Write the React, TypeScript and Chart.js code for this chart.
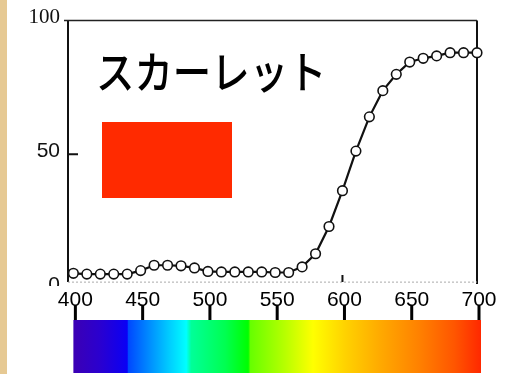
import React, { useEffect, useRef } from "react";
import { Chart, registerables } from "chart.js";

Chart.register(...registerables);

const wavelengths = [
  400, 410, 420, 430, 440, 450, 460, 470, 480, 490, 500, 510, 520, 530, 540, 550,
  560, 570, 580, 590, 600, 610, 620, 630, 640, 650, 660, 670, 680, 690, 700,
];
const reflectance = [
  5.5, 5.2, 5.2, 5.2, 5.2, 6.5, 8.5, 8.5, 8.3, 7.5, 6.2, 6.0, 6.0, 6.0, 6.0, 5.8,
  5.8, 7.9, 12.8, 23.0, 36.4, 51.2, 64.0, 73.8, 79.9, 84.5, 85.9, 86.8, 88.0, 88.0, 88.0,
];
const xTickValues = [400, 450, 500, 550, 600, 650, 700];
const yTickValues = [0, 50, 100];
const titleText = "スカーレット";
const swatchColor = "#ff2a00";
const spectrumStops: [number, string][] = [
  [0, "#3c00b4"],
  [0.066, "#2a00d0"],
  [0.132, "#0a00f5"],
  [0.135, "#0048ff"],
  [0.189, "#0090ff"],
  [0.238, "#00d0ff"],
  [0.277, "#00ffff"],
  [0.289, "#00ff99"],
  [0.373, "#00ff50"],
  [0.429, "#00ff00"],
  [0.434, "#66ff00"],
  [0.52, "#b8ff00"],
  [0.588, "#ffff00"],
  [0.667, "#ffd200"],
  [0.752, "#ffaa00"],
  [0.85, "#ff8000"],
  [0.936, "#ff5500"],
  [1, "#ff2800"],
];

const decorPlugin = {
  id: "decor",
  beforeDraw(chart: any) {
    const { ctx, width, height } = chart;
    ctx.save();
    ctx.fillStyle = "#ffffff";
    ctx.fillRect(0, 0, width, height);
    ctx.fillStyle = "#e6c993";
    ctx.fillRect(0, 0, 7, height);
    ctx.restore();
  },
  beforeDatasetsDraw(chart: any) {
    const { ctx, chartArea } = chart;
    const xs = chart.scales.x;
    const ys = chart.scales.y;
    const { left, right, top } = chartArea;
    const boxBottom = ys.getPixelForValue(2.2);
    ctx.save();
    // cover lower half of the "0" label (cut off in the scan)
    ctx.fillStyle = "#ffffff";
    ctx.fillRect(30, ys.getPixelForValue(0) - 2, 36, 5);
    // frame
    ctx.strokeStyle = "#111";
    ctx.lineWidth = 2;
    ctx.beginPath();
    ctx.moveTo(left, top);
    ctx.lineTo(left, boxBottom);
    ctx.moveTo(right, top);
    ctx.lineTo(right, boxBottom + 2);
    ctx.stroke();
    ctx.lineWidth = 1.5;
    ctx.strokeStyle = "#222";
    ctx.beginPath();
    ctx.moveTo(left - 4, top);
    ctx.lineTo(right, top);
    ctx.stroke();
    ctx.lineWidth = 1;
    ctx.strokeStyle = "#aaa";
    ctx.setLineDash([2, 2]);
    ctx.beginPath();
    ctx.moveTo(left, boxBottom);
    ctx.lineTo(right, boxBottom);
    ctx.stroke();
    ctx.setLineDash([]);
    // inner ticks
    ctx.strokeStyle = "#111";
    ctx.lineWidth = 2;
    ctx.beginPath();
    const y50 = ys.getPixelForValue(50);
    ctx.moveTo(left, y50);
    ctx.lineTo(left + 10, y50);
    const x600 = xs.getPixelForValue(600);
    ctx.moveTo(x600, boxBottom - 7);
    ctx.lineTo(x600, boxBottom);
    ctx.stroke();
    // spectrum bar
    const barLeft = xs.getPixelForValue(400);
    const barRight = xs.getPixelForValue(700) + 4;
    const barTop = 320;
    const g = ctx.createLinearGradient(barLeft, 0, barRight, 0);
    spectrumStops.forEach(([f, c]) => g.addColorStop(f, c));
    ctx.fillStyle = g;
    ctx.fillRect(barLeft, barTop, barRight - barLeft, chart.height - barTop - 1);
    // ticks above bar
    ctx.strokeStyle = "#000";
    ctx.lineWidth = 3;
    ctx.beginPath();
    xTickValues.forEach((v) => {
      const px = xs.getPixelForValue(v) + 2;
      ctx.moveTo(px, 305);
      ctx.lineTo(px, barTop);
    });
    ctx.stroke();
    // swatch
    ctx.fillStyle = swatchColor;
    ctx.fillRect(102, 122, 130, 76);
    // title
    ctx.fillStyle = "#000";
    ctx.font = '500 39px "Noto Sans CJK JP"';
    ctx.textBaseline = "middle";
    ctx.textAlign = "left";
    ctx.translate(96, 72);
    ctx.scale(0.985, 1.14);
    ctx.fillText(titleText, 0, 0);
    ctx.restore();
  },
};

export default function App() {
  const ref = useRef<HTMLCanvasElement>(null);
  useEffect(() => {
    document.body.style.margin = "0";
    if (!ref.current) return;
    const chart = new Chart(ref.current, {
      type: "line",
      data: {
        datasets: [
          {
            data: wavelengths.map((w, i) => ({ x: w, y: reflectance[i] })),
            borderColor: "#111",
            borderWidth: 2.2,
            pointRadius: 4.8,
            pointBackgroundColor: "#ffffff",
            pointBorderColor: "#111",
            pointBorderWidth: 1.6,
            tension: 0,
            clip: false as any,
          },
        ],
      },
      options: {
        animation: false,
        responsive: false,
        maintainAspectRatio: false,
        events: [],
        layout: { padding: { left: 0, right: 33, top: 18, bottom: 0 } },
        plugins: { legend: { display: false }, tooltip: { enabled: false } },
        scales: {
          x: {
            type: "linear",
            min: 396,
            max: 700,
            afterBuildTicks: (s: any) => {
              s.ticks = xTickValues.map((v) => ({ value: v }));
            },
            afterFit: (s: any) => {
              s.height = 86;
            },
            grid: { display: false, drawTicks: false },
            border: { display: false },
            ticks: {
              z: 1,
              autoSkip: false,
              maxRotation: 0,
              padding: 0,
              labelOffset: 2,
              color: "#000",
              font: { family: '"Liberation Sans", Arial, sans-serif', size: 21 },
              callback: (v: any) => String(v),
            },
          },
          y: {
            type: "linear",
            min: 0,
            max: 100,
            afterBuildTicks: (s: any) => {
              s.ticks = yTickValues.map((v) => ({ value: v }));
            },
            afterFit: (s: any) => {
              s.width = 68;
            },
            grid: { display: false, drawTicks: false },
            border: { display: false },
            ticks: {
              padding: 8,
              labelOffset: -3,
              color: "#111",
              font: (c: any) =>
                c.tick && c.tick.value === 100
                  ? { family: '"Liberation Serif", serif', size: 21 }
                  : { family: '"Liberation Sans", Arial, sans-serif', size: 21 },
              callback: (v: any) => String(v),
            },
          },
        },
      },
      plugins: [decorPlugin],
    });
    return () => chart.destroy();
  }, []);
  return (
    <div style={{ width: 510, height: 374 }}>
      <canvas ref={ref} width={510} height={374} style={{ display: "block" }} />
    </div>
  );
}
